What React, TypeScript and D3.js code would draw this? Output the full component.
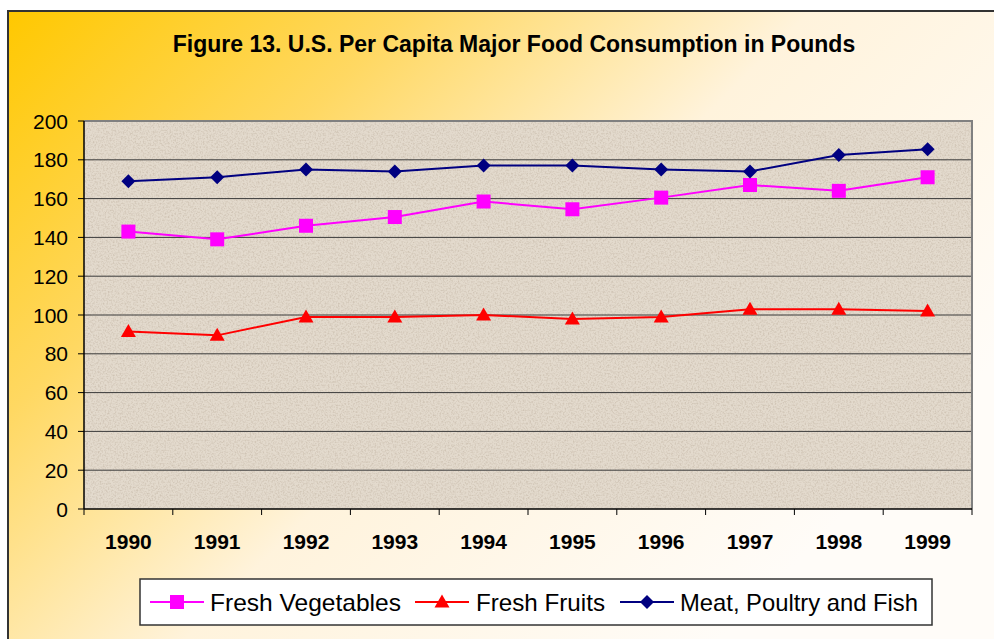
import React from "react";
import * as d3 from "d3";

const years = ["1990", "1991", "1992", "1993", "1994", "1995", "1996", "1997", "1998", "1999"];
const vegetables = [143, 139, 146, 150.5, 158.5, 154.5, 160.5, 167, 164, 171];
const fruits = [91.5, 89.5, 99, 99, 100, 98, 99, 103, 103, 102];
const meat = [169, 171, 175, 174, 177, 177, 175, 174, 182.5, 185.5];
const yTicks = [0, 20, 40, 60, 80, 100, 120, 140, 160, 180, 200];
const title = "Figure 13. U.S. Per Capita Major Food Consumption in Pounds";

const W = 994, H = 639;
const plot = { left: 84, top: 121, right: 972, bottom: 509 };

type Series = { name: string; values: number[]; color: string; marker: "square" | "triangle" | "diamond" };
const series: Series[] = [
  { name: "Fresh Vegetables", values: vegetables, color: "#FF00FF", marker: "square" },
  { name: "Fresh Fruits", values: fruits, color: "#FF0000", marker: "triangle" },
  { name: "Meat, Poultry and Fish", values: meat, color: "#000080", marker: "diamond" },
];

function Marker({ kind, x, y, color }: { kind: string; x: number; y: number; color: string }) {
  if (kind === "square") return <rect x={x - 7} y={y - 7} width={14} height={14} fill={color} />;
  if (kind === "triangle")
    return <path d={`M${x},${y - 7.5} L${x + 7.5},${y + 5.5} L${x - 7.5},${y + 5.5} Z`} fill={color} />;
  return <path d={`M${x},${y - 7} L${x + 7},${y} L${x},${y + 7} L${x - 7},${y} Z`} fill={color} />;
}

export default function App() {
  const x = d3.scaleBand<string>().domain(years).range([plot.left, plot.right]);
  const y = d3.scaleLinear().domain([0, 200]).range([plot.bottom, plot.top]);
  const cx = (yr: string) => (x(yr) as number) + x.bandwidth() / 2;
  const line = d3
    .line<number>()
    .x((_, i) => cx(years[i]))
    .y((v) => y(v));

  const legendItems = [
    { lineX: 150, textX: 210, len: 191 },
    { lineX: 415, textX: 476, len: 129 },
    { lineX: 620, textX: 680, len: 238 },
  ];
  const legendY = 602;

  return (
    <svg
      width={W}
      height={H}
      style={{ position: "absolute", left: 0, top: 0 }}
      fontFamily="'Liberation Sans', Arial, sans-serif"
    >
      <defs>
        <linearGradient id="bg" gradientUnits="userSpaceOnUse" x1={8} y1={11} x2={680} y2={680}>
          <stop offset="0" stopColor="#FFC800" />
          <stop offset="0.3" stopColor="#FFD862" />
          <stop offset="0.6" stopColor="#FFF3DC" />
          <stop offset="1" stopColor="#FFFCF8" />
        </linearGradient>
        <filter id="noise" x="0" y="0" width="100%" height="100%">
          <feTurbulence type="fractalNoise" baseFrequency="0.6" numOctaves={2} seed={3} result="t" />
          <feColorMatrix
            in="t"
            type="matrix"
            values="0 0 0 0 0.55  0 0 0 0 0.47  0 0 0 0 0.38  0 0 0 -2.4 1.4"
          />
        </filter>
        <clipPath id="plotclip">
          <rect x={plot.left} y={plot.top} width={plot.right - plot.left} height={plot.bottom - plot.top} />
        </clipPath>
      </defs>
      <rect x={0} y={0} width={W} height={H} fill="#FFFFFF" />
      <rect x={8} y={11} width={1000} height={700} fill="url(#bg)" stroke="#333" strokeWidth={2} />

      <text x={514} y={52} textAnchor="middle" fontWeight="bold" fontSize={23} fill="#000">
        {title}
      </text>

      {/* plot area */}
      <rect
        x={plot.left}
        y={plot.top}
        width={plot.right - plot.left}
        height={plot.bottom - plot.top}
        fill="#E3DACD"
      />
      <rect
        x={plot.left}
        y={plot.top}
        width={plot.right - plot.left}
        height={plot.bottom - plot.top}
        filter="url(#noise)"
        opacity={0.6}
      />
      {yTicks
        .filter((t) => t > 0 && t < 200)
        .map((t) => (
          <line key={t} x1={plot.left} x2={plot.right} y1={y(t)} y2={y(t)} stroke="#3a3a3a" strokeWidth={1} />
        ))}
      <path
        d={`M${plot.left},${plot.top} H${plot.right} V${plot.bottom}`}
        fill="none"
        stroke="#808080"
        strokeWidth={2}
      />

      {/* axes */}
      <line x1={plot.left} x2={plot.left} y1={plot.top} y2={plot.bottom} stroke="#000" strokeWidth={1.5} />
      <line x1={plot.left} x2={plot.right} y1={plot.bottom} y2={plot.bottom} stroke="#000" strokeWidth={1.5} />
      {yTicks.map((t) => (
        <g key={t}>
          <line x1={plot.left - 6} x2={plot.left} y1={y(t)} y2={y(t)} stroke="#000" strokeWidth={1} />
          <text x={68} y={y(t)} dy="0.36em" textAnchor="end" fontSize={21} fill="#000">
            {t}
          </text>
        </g>
      ))}
      {years.map((yr) => (
        <line
          key={yr}
          x1={x(yr) as number}
          x2={x(yr) as number}
          y1={plot.bottom}
          y2={plot.bottom + 6}
          stroke="#000"
          strokeWidth={1}
        />
      ))}
      <line x1={plot.right} x2={plot.right} y1={plot.bottom} y2={plot.bottom + 6} stroke="#000" strokeWidth={1} />
      {years.map((yr) => (
        <text key={yr} x={cx(yr)} y={549} textAnchor="middle" fontWeight="bold" fontSize={21} fill="#000">
          {yr}
        </text>
      ))}

      {/* series */}
      <g clipPath="url(#plotclip)">
        {series.map((s) => (
          <g key={s.name}>
            <path d={line(s.values) || ""} fill="none" stroke={s.color} strokeWidth={2} />
            {s.values.map((v, i) => (
              <Marker key={i} kind={s.marker} x={cx(years[i])} y={y(v)} color={s.color} />
            ))}
          </g>
        ))}
      </g>

      {/* legend */}
      <rect x={140} y={579} width={792} height={46} fill="#FFFFFF" stroke="#333" strokeWidth={1.5} />
      {series.map((s, i) => {
        const li = legendItems[i];
        return (
          <g key={s.name}>
            <line x1={li.lineX} x2={li.lineX + 54} y1={legendY} y2={legendY} stroke={s.color} strokeWidth={2} />
            <Marker kind={s.marker} x={li.lineX + 27} y={legendY} color={s.color} />
            <text
              x={li.textX}
              y={legendY}
              dy="0.36em"
              fontSize={24}
              fill="#000"
              textLength={li.len}
              lengthAdjust="spacingAndGlyphs"
            >
              {s.name}
            </text>
          </g>
        );
      })}
    </svg>
  );
}
